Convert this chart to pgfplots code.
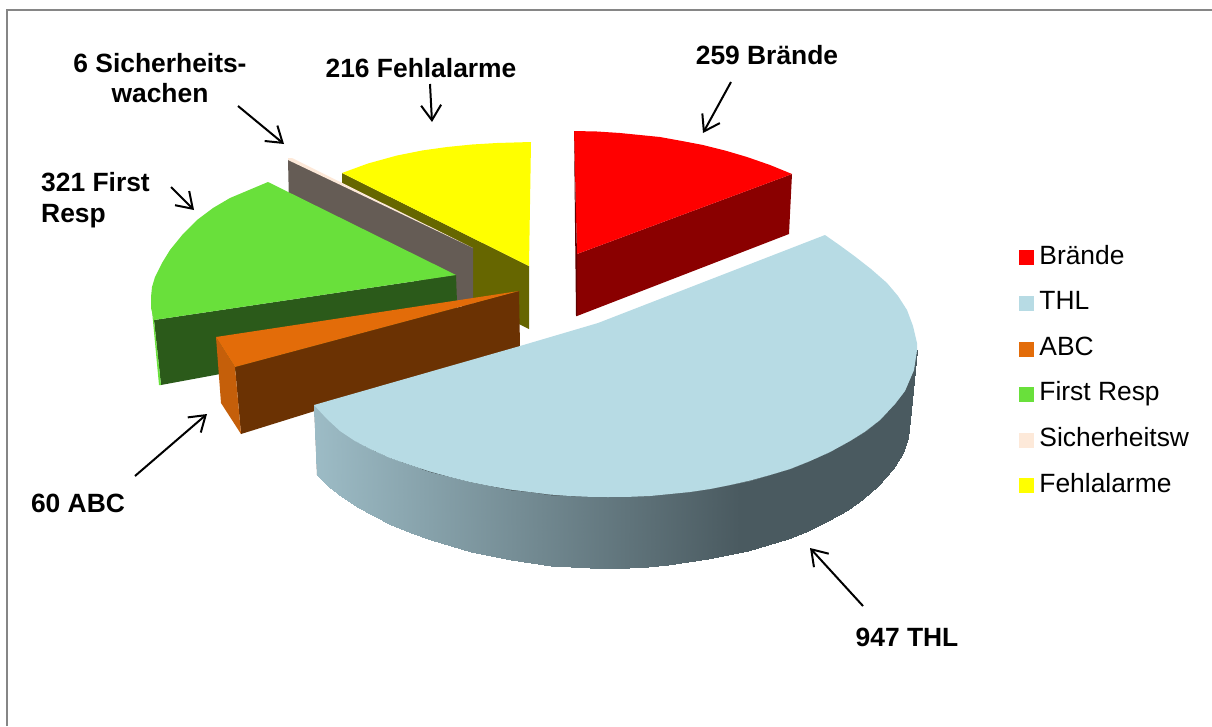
\documentclass[border=0pt]{standalone}
\usepackage{fontspec}
\setmainfont{Liberation Sans}
\usepackage{pgfplots}
\pgfplotsset{compat=1.18}
\usetikzlibrary{arrows.meta}
\definecolor{cRed}{HTML}{FF0000}
\definecolor{cRedD}{HTML}{8A0000}
\definecolor{cBlue}{HTML}{B7DBE4}
\definecolor{cOrange}{HTML}{E36C09}
\definecolor{cOrangeL}{HTML}{C55F0A}
\definecolor{cBrown}{HTML}{6B3203}
\definecolor{cGreen}{HTML}{69E03B}
\definecolor{cGreenD}{HTML}{2B5A1A}
\definecolor{cPeach}{HTML}{FDE9D9}
\definecolor{cGrey}{HTML}{655C55}
\definecolor{cYellow}{HTML}{FFFF00}
\definecolor{cOlive}{HTML}{666600}
\definecolor{cFrame}{HTML}{868686}
\newcommand{\lab}{\fontsize{26.4}{31}\selectfont\bfseries}
\pgfplotsset{
  piece/.style={draw=none,forget plot},
  arr/.style={black,line width=2pt,forget plot,-{Straight Barb[length=15pt,width=20pt,line width=2pt]}},
  sq/.style={legend image code/.code={\fill[##1] (0pt,-7pt) rectangle (14pt,7pt);\path (18.5pt,0pt);}}
}
\begin{document}
\begin{tikzpicture}
\useasboundingbox (0,0) rectangle (1212pt,726pt);
\begin{axis}[
  scale only axis,width=1212pt,height=726pt,
  xmin=0,xmax=1212,ymin=0,ymax=726,y dir=reverse,
  hide axis,clip=true,
  colormap={thlside}{rgb255(0pt)=(157,188,198); rgb255(427pt)=(74,90,96); rgb255(604pt)=(74,90,96)},
  point meta min=313,point meta max=917,
  legend cell align=left,
  legend style={at={(axis cs:1018.5,243)},anchor=north west,draw=none,fill=none,
    font=\fontsize{26.4}{31}\selectfont,inner sep=0pt,outer sep=0pt,
    row sep=16.6pt,
    nodes={text height=19pt,text depth=6pt}},
]
% frame
\addplot[cFrame,line width=2pt,forget plot] coordinates {(7,726) (7,9.5) (1212,9.5)};
% yellow slice
\addplot[piece,fill=cOlive] coordinates {(342,173) (529,266) (529,329) (470,300) (342,184)};
\addplot[piece,fill=cYellow] coordinates {(529,266) (342,173) (368,163.5) (397,155.5) (422,150.5) (447,147) (472,144.5) (497,143) (531,142)};
% red slice
\addplot[piece,fill=cRedD] coordinates {(577,254) (792,174) (789,234) (577,316)};
\addplot[piece,fill=cRed] coordinates {(577,254) (574,131) (597,131.5) (620,133) (640,135) (660,137) (682,141) (703,145) (725,150.5) (747,157) (770,165) (792,174)};
\addplot[piece,fill=black!30!cRedD] coordinates {(574,131) (577,254) (577,316) (576,316)};
% Sicherheitswachen slice
\addplot[piece,fill=cGrey] coordinates {(288,159) (473,248) (473,312) (289,205)};
\addplot[piece,fill=cPeach] coordinates {(288,158) (292,158) (473,248) (288,160)};
% First Resp slice
\addplot[piece,fill=cGreenD] coordinates {(154,320) (456,275) (458,330) (161,385)};
\addplot[piece,fill=cGreen] coordinates {(151,300) (154,320) (161,385) (159,385)};
\addplot[piece,fill=cGreen] coordinates {(456,275) (268,182) (249,190) (230,198) (213,208) (197,220) (183,234) (170,250) (162,263) (155,277) (152,287) (151,297) (151,308) (154,320)};
% ABC slice
\addplot[piece,fill=cBrown] coordinates {(235,367) (519,291) (520,347) (241,434)};
\addplot[piece,fill=cOrangeL] coordinates {(216,337) (235,367) (241,434) (221,403)};
\addplot[piece,fill=cOrange] coordinates {(519,291) (216,337) (235,367)};
% THL side, shaded
\addplot[piece,fill=black!50!cBlue] coordinates {(314,405) (340,431) (608,497) (917,350) (910,420) (608,568) (317,475)};
\addplot[forget plot,patch,patch type=rectangle,shader=interp,point meta=x] coordinates {
 (314,405) (327,419) (329,487) (317,475)
 (327,419) (340,431) (342,497) (329,487)
 (340,431) (355,441) (357,507) (342,497)
 (355,441) (370,449) (372,515) (357,507)
 (370,449) (390,458) (391,525) (372,515)
 (390,458) (410,465) (411,533) (391,525)
 (410,465) (430,471.5) (431,540) (411,533)
 (430,471.5) (450,477) (451,546) (431,540)
 (450,477) (470,482) (471,551.5) (451,546)
 (470,482) (490,486) (491,556) (471,551.5)
 (490,486) (510,489.5) (511,560) (491,556)
 (510,489.5) (530,492) (531,563) (511,560)
 (530,492) (550,494.5) (551,565.5) (531,563)
 (550,494.5) (570,496) (571,567) (551,565.5)
 (570,496) (589,496.8) (590,567.8) (571,567)
 (589,496.8) (608,497) (608,568) (590,567.8)
 (608,497) (630,496.8) (629,567.5) (608,568)
 (630,496.8) (650,496) (648,566.5) (629,567.5)
 (650,496) (670,494) (668,564.5) (648,566.5)
 (670,494) (690,492) (688,562) (668,564.5)
 (690,492) (710,489) (708,558.6) (688,562)
 (710,489) (730,485) (728,555) (708,558.6)
 (730,485) (750,480.5) (748,551) (728,555)
 (750,480.5) (770,475) (768,545) (748,551)
 (770,475) (790,469) (788,539) (768,545)
 (790,469) (810,461) (808,531) (788,539)
 (810,461) (830,452) (828,521) (808,531)
 (830,452) (850,441) (848,510) (828,521)
 (850,441) (865,431.6) (863,499) (848,510)
 (865,431.6) (880,420) (878,486) (863,499)
 (880,420) (895,404) (893,469) (878,486)
 (895,404) (905,391) (903,453) (893,469)
 (905,391) (914,370) (908,438) (903,453)
 (914,370) (917,350) (910,420) (908,438)
};
% THL top
\addplot[piece,fill=cBlue] coordinates {(598,323) (825,235) (840,245.5) (855,256.5) (871,269) (887,283) (898,296) (907,310) (913,326) (917,343) (917,350) (914,370) (905,391) (895,404) (880,420) (865,431.6) (850,441) (830,452) (810,461) (790,469) (770,475) (750,480.5) (730,485) (710,489) (690,492) (670,494) (650,496) (630,496.8) (608,497) (589,496.8) (570,496) (550,494.5) (530,492) (510,489.5) (490,486) (470,482) (450,477) (430,471.5) (410,465) (390,458) (370,449) (355,441) (340,431) (327,419) (314,405) (520,346)};
% arrows
\addplot[arr] coordinates {(731,82) (703,133)};
\addplot[arr] coordinates {(430,84) (432,122)};
\addplot[arr] coordinates {(238,106) (284,144)};
\addplot[arr] coordinates {(171,187) (194,210)};
\addplot[arr] coordinates {(135,476) (207,414)};
\addplot[arr] coordinates {(863,606) (810,548)};
% labels
\node[font=\lab] at (axis cs:767,55) {259 Brände};
\node[font=\lab] at (axis cs:421,68) {216 Fehlalarme};
\node[font=\lab] at (axis cs:160,63) {6 Sicherheits-};
\node[font=\lab] at (axis cs:160,93) {wachen};
\node[font=\lab,anchor=west,inner sep=0pt] at (axis cs:41,182) {321 First};
\node[font=\lab,anchor=west,inner sep=0pt] at (axis cs:41,216) {Resp};
\node[font=\lab] at (axis cs:78,503) {60 ABC};
\node[font=\lab] at (axis cs:907,637) {947 THL};
% legend
\addlegendimage{sq,cRed}\addlegendentry{Brände}
\addlegendimage{sq,cBlue}\addlegendentry{THL}
\addlegendimage{sq,cOrange}\addlegendentry{ABC}
\addlegendimage{sq,cGreen}\addlegendentry{First Resp}
\addlegendimage{sq,cPeach}\addlegendentry{Sicherheitsw}
\addlegendimage{sq,cYellow}\addlegendentry{Fehlalarme}
\end{axis}
\end{tikzpicture}
\end{document}
